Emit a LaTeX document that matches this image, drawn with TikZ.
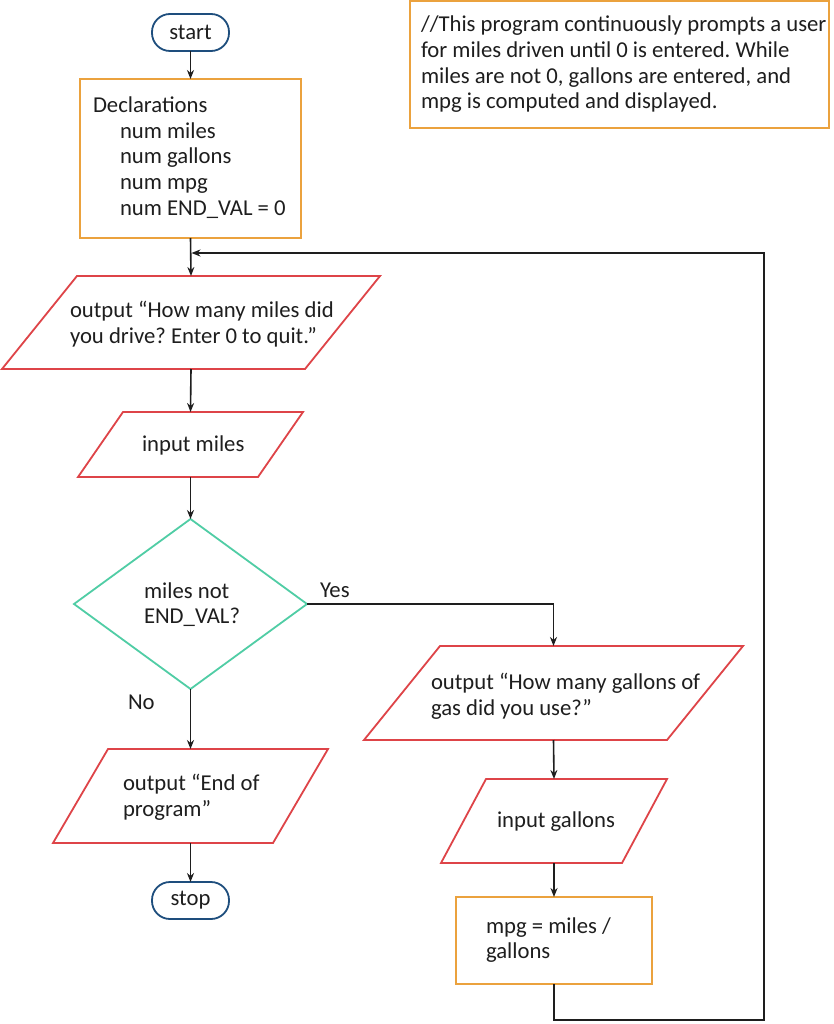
\documentclass[tikz,border=0pt]{standalone}
\usepackage{fontspec}
\setmainfont{Carlito}
\usetikzlibrary{calc,arrows.meta}
\definecolor{tblue}{RGB}{30,78,125}
\definecolor{torange}{RGB}{235,162,62}
\definecolor{tred}{RGB}{222,68,72}
\definecolor{tteal}{RGB}{80,205,165}
\definecolor{tink}{RGB}{30,30,30}
\frenchspacing
\begin{document}
\begin{tikzpicture}[x=1pt,y=-1pt,
  frame/.style={inner sep=0pt, outer sep=0pt},
  proc/.style={frame, draw=torange, line width=1.8pt},
  term/.style={frame, draw=tblue, line width=1.8pt, rounded corners=18pt, text=tink, font=\fontsize{22.7}{25.7}\selectfont},
  io/.style={draw=tred, line width=1.8pt, line join=miter},
  dec/.style={draw=tteal, line width=1.8pt, line join=miter},
  txt/.style={inner sep=0pt, outer sep=0pt, align=left, text=tink, font=\fontsize{22.7}{25.7}\selectfont},
  flow/.style={line width=1.6pt, draw=tink, -{Stealth[length=9pt,width=7pt]}},
  ]
\useasboundingbox (0,0) rectangle (834,1024);
\fill[white] (0,0) rectangle (834,1024);

% terminators
\node[term, minimum width=77pt, minimum height=37pt] (start) at (190.5,32.5) {start};
\node[term, minimum width=77pt, minimum height=37pt] (stop) at (190.5,900.5) {stop};

% process boxes
\node[proc, minimum width=221pt, minimum height=159pt] (decl) at (190.5,158.5) {};
\node[txt, anchor=west] (declt) at (93,157.5) {Declarations\\\hspace*{27pt}num miles\\\hspace*{27pt}num gallons\\\hspace*{27pt}num mpg\\\hspace*{27pt}num END\_VAL = 0};

\node[proc, minimum width=419pt, minimum height=127pt] (cmt) at (619.5,64.5) {};
\node[txt, anchor=west] (cmtt) at (421,64.5) {//This program continuously prompts a user\\for miles driven until 0 is entered. While\\miles are not 0, gallons are entered, and\\mpg is computed and displayed.};

\node[proc, minimum width=196pt, minimum height=87pt] (mpg) at (554,940.5) {};
\node[txt, anchor=west] (mpgt) at (486,940) {mpg = miles /\\gallons};

% input/output parallelograms (frames)
\node[frame, minimum width=378pt, minimum height=93pt] (p1) at (191,322.5) {};
\draw[io] ($(p1.north west)+(75,0)$) -- (p1.north east) -- ($(p1.south east)-(75,0)$) -- (p1.south west) -- cycle;
\node[txt, anchor=west] (p1t) at (70,324) {output “How many miles did\\you drive? Enter 0 to quit.”};

\node[frame, minimum width=225pt, minimum height=65pt] (p2) at (190.5,444.5) {};
\draw[io] ($(p2.north west)+(45,0)$) -- (p2.north east) -- ($(p2.south east)-(45,0)$) -- (p2.south west) -- cycle;
\node[txt, anchor=base west] (p2t) at (142,451) {input miles};

\node[frame, minimum width=275pt, minimum height=94pt] (p4) at (190.5,796) {};
\draw[io] ($(p4.north west)+(55,0)$) -- (p4.north east) -- ($(p4.south east)-(55,0)$) -- (p4.south west) -- cycle;
\node[txt, anchor=west] (p4t) at (123,797.5) {output “End of\\program”};

\node[frame, minimum width=379pt, minimum height=94pt] (p3) at (553.5,693) {};
\draw[io] ($(p3.north west)+(76,0)$) -- (p3.north east) -- ($(p3.south east)-(76,0)$) -- (p3.south west) -- cycle;
\node[txt, anchor=west] (p3t) at (431,696) {output “How many gallons of\\gas did you use?”};

\node[frame, minimum width=226pt, minimum height=84pt] (p5) at (554,821) {};
\draw[io] ($(p5.north west)+(45,0)$) -- (p5.north east) -- ($(p5.south east)-(45,0)$) -- (p5.south west) -- cycle;
\node[txt, anchor=base west] (p5t) at (497,827) {input gallons};

% decision
\node[frame, minimum width=233pt, minimum height=170pt] (dia) at (190.5,604) {};
\draw[dec] (dia.north) -- (dia.east) -- (dia.south) -- (dia.west) -- cycle;
\node[txt, anchor=west] (diat) at (144,604.5) {miles not\\END\_VAL?};

% labels
\node[txt, anchor=base west] (yes) at (320,597) {Yes};
\node[txt, anchor=base west] (no) at (128,709) {No};

% connectors
\draw[flow] (start.south) -- (decl.north);
\draw[flow] (decl.south) -- (p1.north);
\draw[flow] (p1.south) -- (p2.north);
\draw[flow] (p2.south) -- (dia.north);
\draw[flow] (dia.east) -| (p3.north);
\draw[flow] (dia.south) -- (p4.north);
\draw[flow] (p4.south) -- (stop.north);
\draw[flow] (p3.south) -- (p5.north);
\draw[flow] (p5.south) -- (mpg.north);
\coordinate (lb) at (764,1020);
\coordinate (join) at (191.5,253);
\draw[flow] (mpg.south) |- (lb) |- (join);
\end{tikzpicture}
\end{document}
